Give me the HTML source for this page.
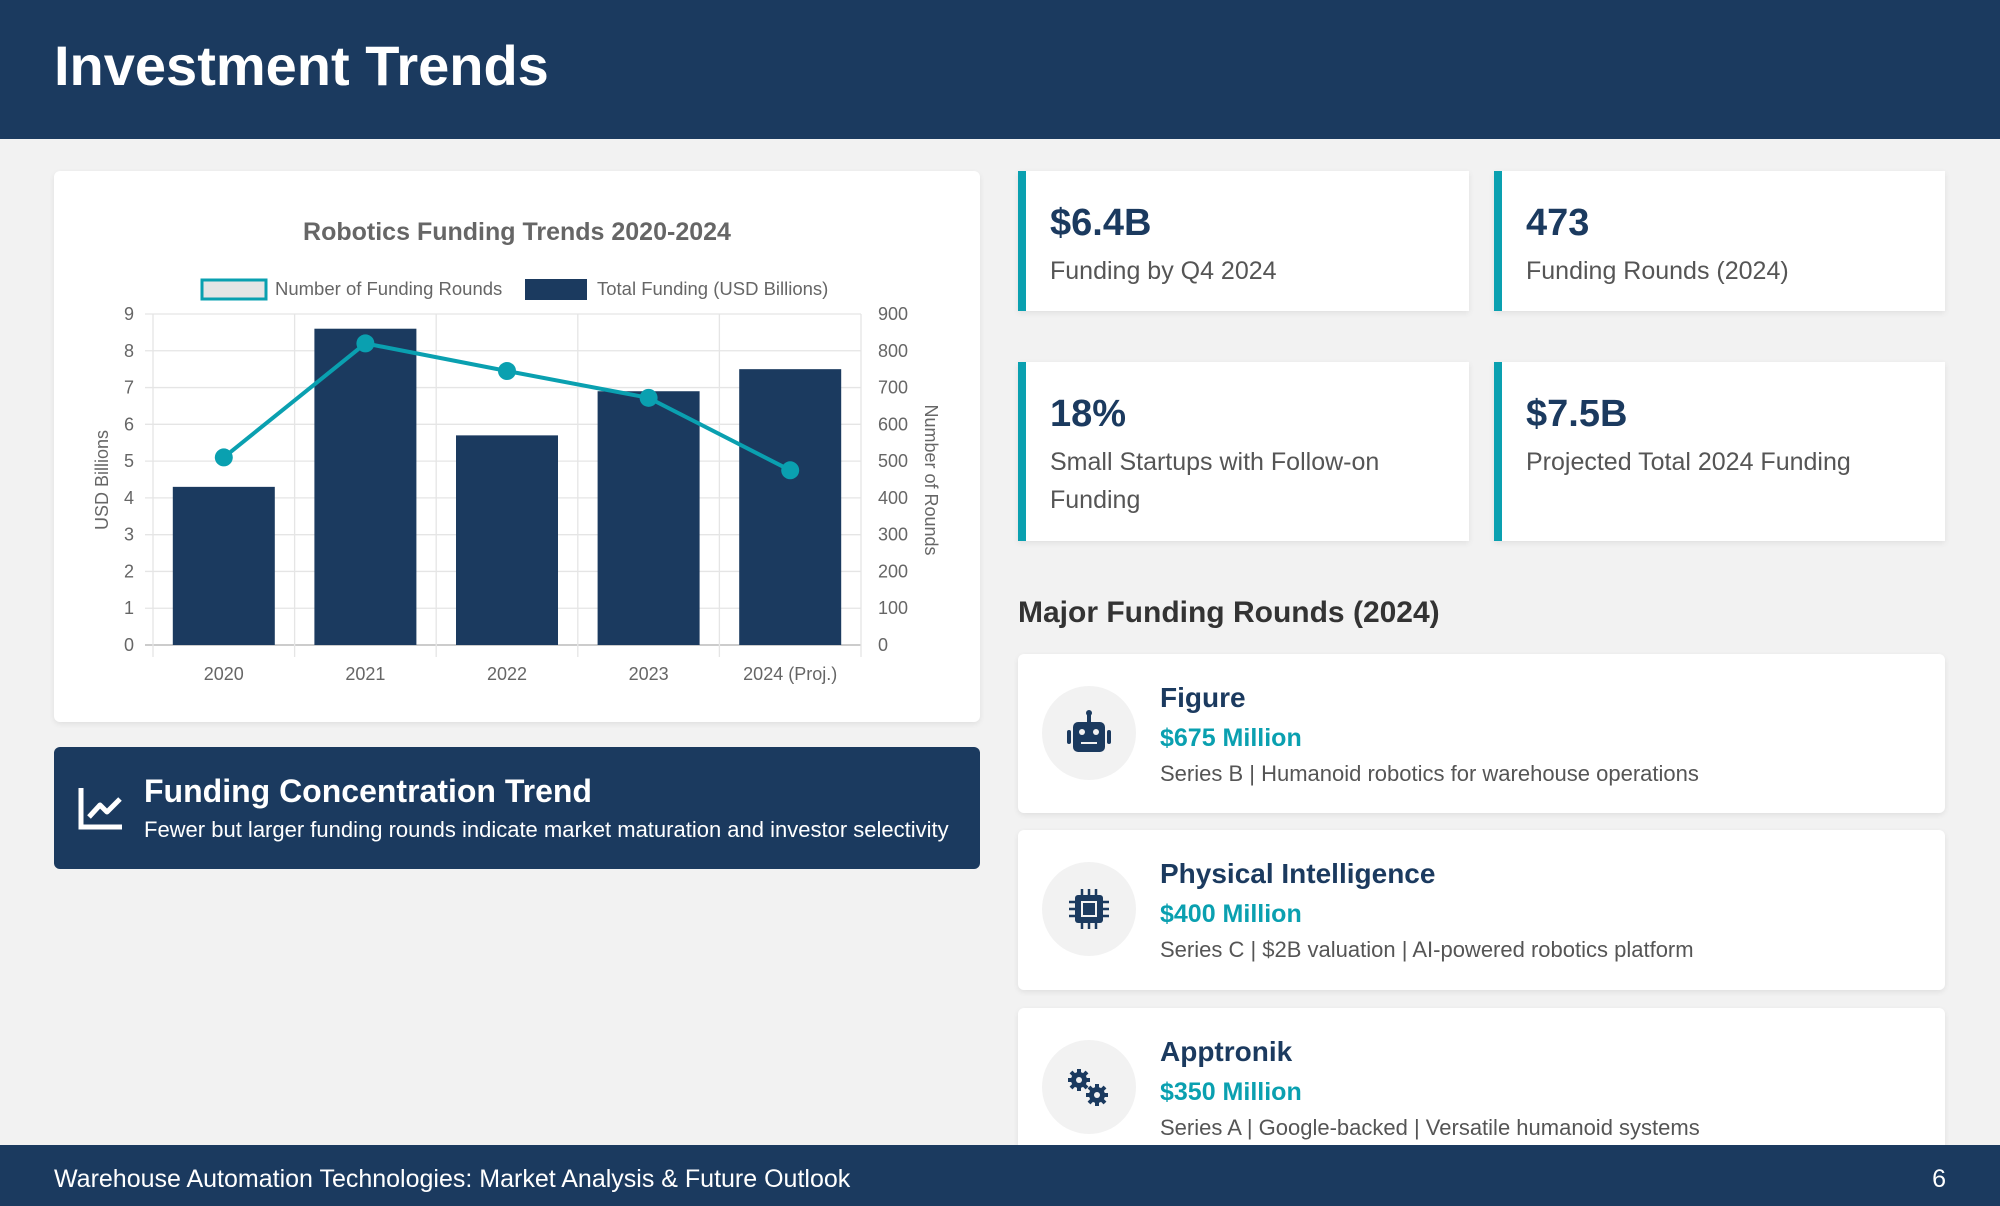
<!DOCTYPE html>
<html><head><meta charset="utf-8"><style>
*{margin:0;padding:0;box-sizing:border-box}
body{width:2000px;height:1206px;background:#f2f2f2;font-family:"Liberation Sans",sans-serif;position:relative;overflow:hidden}
.abs{position:absolute}
.header{left:0;top:0;width:2000px;height:139px;background:#1b3a5f}
.header h1{position:absolute;left:54px;top:33px;color:#fff;font-size:56px;font-weight:bold}
.card{background:#fff;border-radius:6px;box-shadow:0 2px 6px rgba(0,0,0,.08)}
.stat{background:#fff;border-left:8px solid #0aa0b0;box-shadow:0 2px 6px rgba(0,0,0,.08)}
.stat .v{position:absolute;left:24px;top:31px;font-size:38px;font-weight:bold;color:#1b3a5f}
.stat .l{position:absolute;left:24px;top:81px;width:400px;font-size:25px;color:#555;line-height:38px}
.round .ic{position:absolute;left:24px;top:32px;width:94px;height:94px;border-radius:50%;background:#f2f2f2}
.round .n{position:absolute;left:142px;top:28px;font-size:28px;font-weight:bold;color:#1b3a5f}
.round .a{position:absolute;left:142px;top:70px;font-size:25px;font-weight:bold;color:#0aa0b0}
.round .d{position:absolute;left:142px;top:107px;font-size:22px;color:#555}
.footer{left:0;top:1145px;width:2000px;height:61px;background:#1b3a5f;color:#fff;font-size:25px}
</style></head><body>
<div class="abs header"><h1>Investment Trends</h1></div>

<div class="abs card" style="left:54px;top:171px;width:926px;height:551px">
<svg id="chart" width="926" height="551" style="position:absolute;left:0;top:0"></svg>
</div>

<div class="abs" style="left:54px;top:747px;width:926px;height:122px;background:#1b3a5f;border-radius:6px">
<svg style="position:absolute;left:22px;top:36px" width="50" height="50" viewBox="0 0 50 50"><path d="M5 5 V44 H46" stroke="#fff" stroke-width="5" fill="none"/><path d="M13 34 L24 22 L31 29 L44 16" stroke="#fff" stroke-width="5" fill="none" stroke-linejoin="round"/></svg>
<div style="position:absolute;left:90px;top:26px;color:#fff;font-size:32px;font-weight:bold">Funding Concentration Trend</div>
<div style="position:absolute;left:90px;top:70px;color:#fff;font-size:22px">Fewer but larger funding rounds indicate market maturation and investor selectivity</div>
</div>

<div class="abs stat" style="left:1018px;top:171px;width:451px;height:140px"><div class="v">$6.4B</div><div class="l">Funding by Q4 2024</div></div>
<div class="abs stat" style="left:1494px;top:171px;width:451px;height:140px"><div class="v">473</div><div class="l">Funding Rounds (2024)</div></div>
<div class="abs stat" style="left:1018px;top:362px;width:451px;height:179px"><div class="v">18%</div><div class="l">Small Startups with Follow-on Funding</div></div>
<div class="abs stat" style="left:1494px;top:362px;width:451px;height:179px"><div class="v">$7.5B</div><div class="l">Projected Total 2024 Funding</div></div>

<div class="abs" style="left:1018px;top:596px;font-size:30px;font-weight:bold;color:#333">Major Funding Rounds (2024)</div>

<div class="abs card round" style="left:1018px;top:654px;width:927px;height:159px">
<div class="ic"><svg width="94" height="94" viewBox="0 0 94 94"><rect x="31" y="36" width="32" height="30" rx="5" fill="#1b3a5f"/><rect x="45" y="28" width="4" height="9" fill="#1b3a5f"/><circle cx="47" cy="27" r="3" fill="#1b3a5f"/><rect x="25" y="44" width="4" height="14" rx="2" fill="#1b3a5f"/><rect x="65" y="44" width="4" height="14" rx="2" fill="#1b3a5f"/><circle cx="40" cy="46" r="3" fill="#f2f2f2"/><circle cx="54" cy="46" r="3" fill="#f2f2f2"/><rect x="39" y="56" width="16" height="2" fill="#f2f2f2"/></svg></div>
<div class="n">Figure</div><div class="a">$675 Million</div><div class="d">Series B | Humanoid robotics for warehouse operations</div></div>

<div class="abs card round" style="left:1018px;top:830px;width:927px;height:160px">
<div class="ic"><svg width="94" height="94" viewBox="0 0 94 94"><rect x="33" y="33" width="28" height="28" rx="3" fill="#1b3a5f"/><rect x="39" y="39" width="16" height="16" fill="#f2f2f2"/><rect x="41" y="41" width="12" height="12" fill="#1b3a5f"/><g stroke="#1b3a5f" stroke-width="2.5"><path d="M40 27v6M47 27v6M54 27v6M40 61v6M47 61v6M54 61v6M27 40h6M27 47h6M27 54h6M61 40h6M61 47h6M61 54h6"/></g></svg></div>
<div class="n">Physical Intelligence</div><div class="a">$400 Million</div><div class="d">Series C | $2B valuation | AI-powered robotics platform</div></div>

<div class="abs card round" style="left:1018px;top:1008px;width:927px;height:160px">
<div class="ic"><svg width="94" height="94" viewBox="0 0 94 94"><g fill="#1b3a5f"><circle cx="37" cy="40" r="8"/><circle cx="55" cy="55" r="8"/></g><g stroke="#1b3a5f" stroke-width="4"><path d="M37 29v22M26 40h22M29 32l16 16M45 32l-16 16M55 44v22M44 55h22M47 47l16 16M63 47l-16 16"/></g><circle cx="37" cy="40" r="3" fill="#f2f2f2"/><circle cx="55" cy="55" r="3" fill="#f2f2f2"/></svg></div>
<div class="n">Apptronik</div><div class="a">$350 Million</div><div class="d">Series A | Google-backed | Versatile humanoid systems</div></div>

<div class="abs footer">
<div style="position:absolute;left:54px;top:20px">Warehouse Automation Technologies: Market Analysis &amp; Future Outlook</div>
<div style="position:absolute;right:54px;top:20px">6</div>
</div>

<script>
const categories=["2020","2021","2022","2023","2024 (Proj.)"];
const fundingValues=[4.3,8.6,5.7,6.9,7.5];
const roundsValues=[510,820,745,672,475];
const leftTicks=[0,1,2,3,4,5,6,7,8,9];
const rightTicks=[0,100,200,300,400,500,600,700,800,900];
const svg=document.getElementById('chart');
const NS='http://www.w3.org/2000/svg';
const X0=99,X1=807,Y0=474,Y1=143;
const yL=v=>Y0-(v/9)*(Y0-Y1);
const yR=v=>Y0-(v/900)*(Y0-Y1);
const bw=(X1-X0)/categories.length;
const xc=i=>X0+bw*(i+0.5);
function el(t,a,txt){const e=document.createElementNS(NS,t);for(const k in a)e.setAttribute(k,a[k]);if(txt!==undefined)e.textContent=txt;svg.appendChild(e);return e;}
let t=el('text',{x:463,y:69,'text-anchor':'middle','font-size':25,'font-weight':'bold',fill:'#666'},'Robotics Funding Trends 2020-2024');


leftTicks.forEach(v=>{const y=yL(v);
 const g=el('line',{x1:X0-8,x2:X1,y1:y,y2:y,stroke:v===0?'#ccc':'#e5e5e5','stroke-width':v===0?2:1.3});
 
 
 const l=el('text',{x:80,y:y+6,'text-anchor':'end','font-size':18,fill:'#666'},v);
 
 });
rightTicks.forEach(v=>{const l=el('text',{x:824,y:yR(v)+6,'font-size':18,fill:'#666'},v);
 
 });
for(let i=0;i<=categories.length;i++){const x=X0+bw*i;el('line',{x1:x,x2:x,y1:Y1,y2:Y0+12,stroke:'#e5e5e5','stroke-width':1.3});}
categories.forEach((c,i)=>{const l=el('text',{x:xc(i),y:509,'text-anchor':'middle','font-size':18,fill:'#666'},c);
 
 });
fundingValues.forEach((v,i)=>{const b=el('rect',{x:xc(i)-51,y:yL(v),width:102,height:Y0-yL(v),fill:'#1b3a5f'});
 
 });
const pl=el('polyline',{points:roundsValues.map((v,i)=>xc(i)+','+yR(v)).join(' '),fill:'none',stroke:'#0aa0b0','stroke-width':4});


roundsValues.forEach((v,i)=>{const p=el('circle',{cx:xc(i),cy:yR(v),r:9,fill:'#0aa0b0'});
 
 });
let l1=el('rect',{x:148,y:109,width:64,height:19,fill:'#e5e5e5',stroke:'#0aa0b0','stroke-width':3});


el('text',{x:221,y:124,'font-size':18.5,fill:'#666'},'Number of Funding Rounds');
let l2=el('rect',{x:471,y:108,width:62,height:21,fill:'#1b3a5f'});


el('text',{x:543,y:124,'font-size':18.5,fill:'#666'},'Total Funding (USD Billions)');
let a=el('text',{transform:'translate(54,309) rotate(-90)','text-anchor':'middle','font-size':18,fill:'#666'},'USD Billions');


let b=el('text',{transform:'translate(871,309) rotate(90)','text-anchor':'middle','font-size':18,fill:'#666'},'Number of Rounds');


</script>
</body></html>
